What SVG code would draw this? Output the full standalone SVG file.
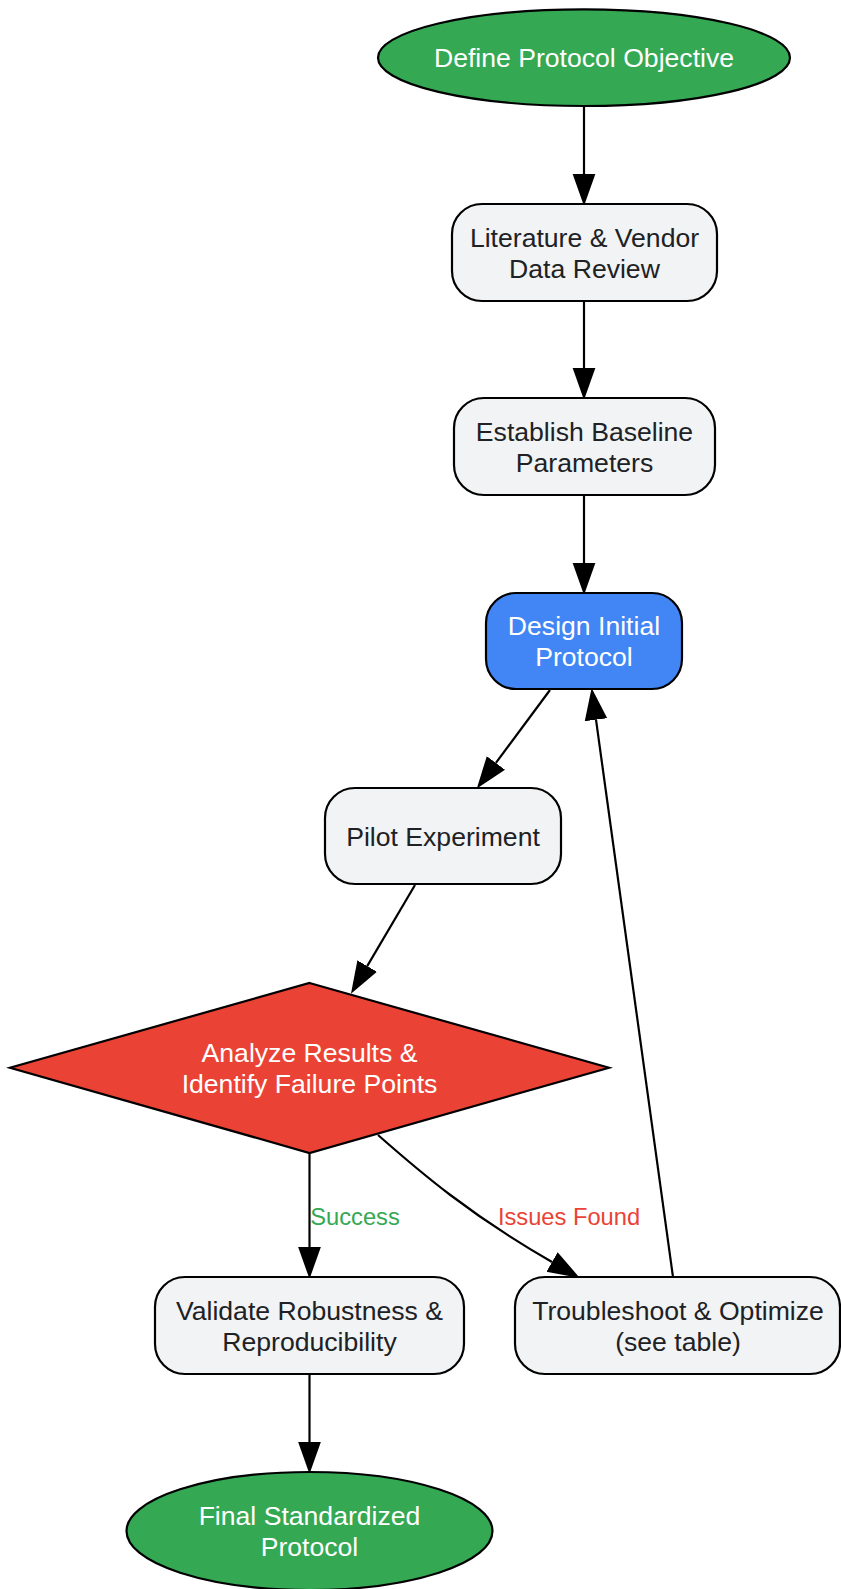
<svg xmlns="http://www.w3.org/2000/svg" width="841" height="1589" viewBox="0 0 841 1589">
<style>
.box{fill:#f1f3f4;stroke:#000;stroke-width:2.2}
.t{font-family:"Liberation Sans",Arial,sans-serif;font-size:26.6px;text-anchor:middle;fill:#202124}
.w{fill:#ffffff}
.edge{fill:none;stroke:#000;stroke-width:2.2}
.lbl{font-family:"Liberation Sans",Arial,sans-serif;font-size:23.7px;text-anchor:middle}
</style>
<defs>
<marker id="arr" markerUnits="userSpaceOnUse" markerWidth="32" markerHeight="24" viewBox="0 0 31 22" refX="0" refY="11" orient="auto">
<path d="M0,0 L31,11 L0,22 z" fill="#000"/>
</marker>
</defs>
<rect width="841" height="1589" fill="#fff"/>
<g id="connectors">
<path class="edge" d="M584,106 L584,174" marker-end="url(#arr)"/>
<path class="edge" d="M584,301 L584,368" marker-end="url(#arr)"/>
<path class="edge" d="M584,495 L584,563" marker-end="url(#arr)"/>
<path class="edge" d="M550,690 L495.9,762.9" marker-end="url(#arr)"/>
<path class="edge" d="M415,885 L367.2,966.1" marker-end="url(#arr)"/>
<path class="edge" d="M309.5,1153 L309.5,1247" marker-end="url(#arr)"/>
<path class="edge" d="M378,1135 C420,1172 470,1215 552,1262" marker-end="url(#arr)"/>
<path class="edge" d="M673,1277 L596,719.7" marker-end="url(#arr)"/>
<path class="edge" d="M309.5,1374 L309.5,1442" marker-end="url(#arr)"/>
<text class="lbl" x="355" y="1225" fill="#34a853">Success</text>
<text class="lbl" x="569" y="1225" fill="#ea4335">Issues Found</text>
</g>
<g id="n1">
<ellipse cx="584" cy="57.7" rx="206" ry="48.3" fill="#34a853" stroke="#000" stroke-width="2.2"/>
<text class="t w" x="584" y="66.7">Define Protocol Objective</text>
</g>
<g id="n2">
<rect class="box" x="452" y="204" width="265" height="97" rx="30"/>
<text class="t" x="584.5" y="246.5">Literature &amp; Vendor</text>
<text class="t" x="584.5" y="277.5">Data Review</text>
</g>
<g id="n3">
<rect class="box" x="454" y="398" width="261" height="97" rx="30"/>
<text class="t" x="584.5" y="440.5">Establish Baseline</text>
<text class="t" x="584.5" y="471.5">Parameters</text>
</g>
<g id="n4">
<rect x="486" y="593" width="196" height="96" rx="30" fill="#4285f4" stroke="#000" stroke-width="2.2"/>
<text class="t w" x="584" y="635">Design Initial</text>
<text class="t w" x="584" y="666">Protocol</text>
</g>
<g id="n5">
<rect class="box" x="325" y="788" width="236" height="96" rx="30"/>
<text class="t" x="443" y="846">Pilot Experiment</text>
</g>
<g id="n6">
<polygon points="309.5,983 609,1067.7 309.5,1153 10,1067.7" fill="#ea4335" stroke="#000" stroke-width="2.2"/>
<text class="t w" x="309.5" y="1061.7">Analyze Results &amp;</text>
<text class="t w" x="309.5" y="1093">Identify Failure Points</text>
</g>
<g id="n7">
<rect class="box" x="155" y="1277" width="309" height="97" rx="30"/>
<text class="t" x="309.5" y="1319.5">Validate Robustness &amp;</text>
<text class="t" x="309.5" y="1350.5">Reproducibility</text>
</g>
<g id="n8">
<rect class="box" x="515" y="1277" width="325" height="97" rx="30"/>
<text class="t" x="678" y="1319.5">Troubleshoot &amp; Optimize</text>
<text class="t" x="678" y="1350.5">(see table)</text>
</g>
<g id="n9">
<ellipse cx="309.5" cy="1531" rx="183" ry="59" fill="#34a853" stroke="#000" stroke-width="2.2"/>
<text class="t w" x="309.5" y="1525">Final Standardized</text>
<text class="t w" x="309.5" y="1556">Protocol</text>
</g>
</svg>
